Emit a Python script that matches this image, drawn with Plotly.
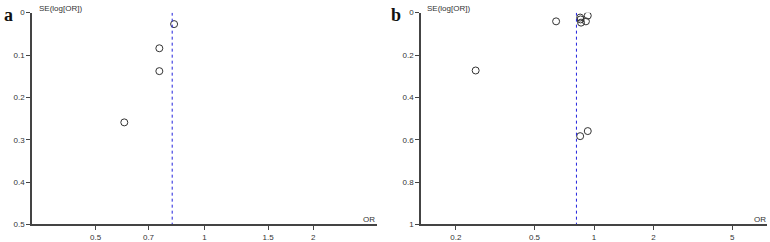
import math
import plotly.graph_objects as go

# Panel a data
a_or = [0.824, 0.75, 0.75, 0.60]
a_se = [0.027, 0.084, 0.138, 0.259]
a_pooled = 0.814
a_xticks = [0.5, 0.7, 1, 1.5, 2]
a_yticks = [0, 0.1, 0.2, 0.3, 0.4, 0.5]
a_yticklabels = ["0", "0.1", "0.2", "0.3", "0.4", "0.5"]

# Panel b data
b_or = [0.643, 0.252, 0.93, 0.851, 0.855, 0.86, 0.91, 0.851, 0.93]
b_se = [0.041, 0.273, 0.014, 0.023, 0.032, 0.047, 0.041, 0.583, 0.559]
b_pooled = 0.815
b_xticks = [0.2, 0.5, 1, 2, 5]
b_yticks = [0, 0.2, 0.4, 0.6, 0.8, 1]
b_yticklabels = ["0", "0.2", "0.4", "0.6", "0.8", "1"]

W, H = 770, 242
fig = go.Figure()

axis_color = "#444444"
tick_font = dict(family="Liberation Sans, Arial, sans-serif", size=8, color="#333333")
marker = dict(symbol="circle-open", size=7, color="#333333", line=dict(width=1, color="#333333"))

fig.add_trace(go.Scatter(x=a_or, y=a_se, mode="markers", marker=marker, xaxis="x", yaxis="y", showlegend=False))
fig.add_trace(go.Scatter(x=[a_pooled, a_pooled], y=[0, a_yticks[-1]], mode="lines",
                         line=dict(color="#2222dd", width=1, dash="dot"), xaxis="x", yaxis="y", showlegend=False))
fig.add_trace(go.Scatter(x=b_or, y=b_se, mode="markers", marker=marker, xaxis="x2", yaxis="y2", showlegend=False))
fig.add_trace(go.Scatter(x=[b_pooled, b_pooled], y=[0, b_yticks[-1]], mode="lines",
                         line=dict(color="#2222dd", width=1, dash="dot"), xaxis="x2", yaxis="y2", showlegend=False))

def xax(domain, rng, ticks, anchor):
    return dict(type="log", domain=domain, range=[math.log10(rng[0]), math.log10(rng[1])],
                tickvals=ticks, ticktext=[str(t) for t in ticks], showgrid=False, zeroline=False,
                showline=True, linecolor=axis_color, linewidth=1.5, ticks="outside", ticklen=4,
                tickcolor=axis_color, tickfont=tick_font, anchor=anchor, fixedrange=True)

def yax(domain, top, ticks, labels, anchor):
    return dict(domain=domain, range=[top, 0], tickvals=ticks, ticktext=labels, showgrid=False,
                zeroline=False, showline=True, linecolor=axis_color, linewidth=1.5, ticks="outside",
                ticklen=4, tickcolor=axis_color, tickfont=tick_font, anchor=anchor, fixedrange=True)

ydom = [13 / H, 233 / H]
fig.update_layout(
    width=W, height=H, margin=dict(l=0, r=0, t=0, b=0),
    paper_bgcolor="white", plot_bgcolor="white",
    xaxis=xax([32 / W, 377 / W], [1 / 3, 3.0], a_xticks, "y"),
    yaxis=yax(ydom, a_yticks[-1], a_yticks, a_yticklabels, "x"),
    xaxis2=xax([421 / W, 767 / W], [0.1333, 7.5], b_xticks, "y2"),
    yaxis2=yax(ydom, b_yticks[-1], b_yticks, b_yticklabels, "x2"),
)

lab_font = dict(family="Liberation Sans, Arial, sans-serif", size=8, color="#333333")
panel_font = dict(family="Liberation Serif, Times New Roman, serif", size=18, color="#111111")
annos = [
    dict(text="<b>a</b>", x=2 / W, y=1 - 11 / H, xanchor="left", yanchor="middle", font=panel_font),
    dict(text="<b>b</b>", x=389 / W, y=1 - 11 / H, xanchor="left", yanchor="middle", font=panel_font),
    dict(text="SE(log[OR])", x=37 / W, y=1 - 5 / H, xanchor="left", yanchor="middle", font=lab_font),
    dict(text="SE(log[OR])", x=425 / W, y=1 - 5 / H, xanchor="left", yanchor="middle", font=lab_font),
    dict(text="OR", x=377 / W, y=1 - 224 / H, xanchor="right", yanchor="middle", font=lab_font),
    dict(text="OR", x=768 / W, y=1 - 224 / H, xanchor="right", yanchor="middle", font=lab_font),
]
for a in annos:
    a.update(xref="paper", yref="paper", showarrow=False)
    fig.add_annotation(**a)

fig.write_html("out.html")
